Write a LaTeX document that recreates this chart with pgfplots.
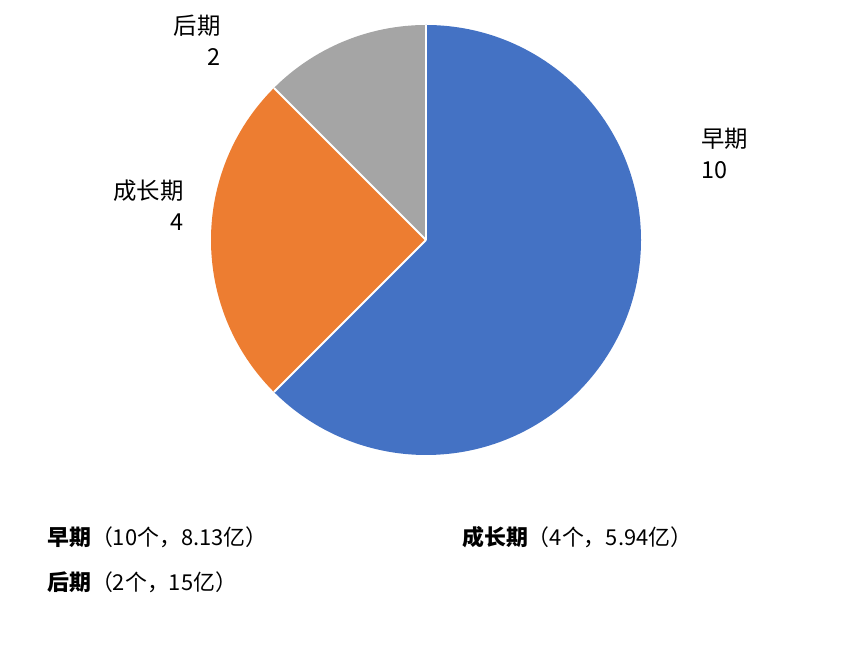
\documentclass[border=0pt]{standalone}
\usepackage{fontspec}
\setmainfont{Noto Sans CJK SC}
\usepackage{pgfplots}
\usepackage{pgfplotstable}
\pgfplotsset{compat=1.18}

\definecolor{pieblue}{HTML}{4472C4}
\definecolor{pieorange}{HTML}{ED7D31}
\definecolor{piegray}{HTML}{A5A5A5}

% stage, count
\pgfplotstableread{
stage count
早期 10
成长期 4
后期 2
}\piedata

\pgfplotstablegetelem{0}{count}\of\piedata \let\cA\pgfplotsretval
\pgfplotstablegetelem{1}{count}\of\piedata \let\cB\pgfplotsretval
\pgfplotstablegetelem{2}{count}\of\piedata \let\cC\pgfplotsretval
\pgfmathsetmacro\total{\cA+\cB+\cC}
% clockwise from 12 o'clock
\pgfmathsetmacro\aA{90}
\pgfmathsetmacro\aB{\aA-360*\cA/\total}
\pgfmathsetmacro\aC{\aB-360*\cB/\total}
\pgfmathsetmacro\aD{\aC-360*\cC/\total}

\begin{document}
\begin{tikzpicture}
\begin{axis}[
    scale only axis,
    width=853bp, height=664bp,
    xmin=0, xmax=853, ymin=0, ymax=664,
    axis lines=none,
    clip=false,
]
% keep the whole canvas in the bounding box
\path (rel axis cs:0,0) rectangle (rel axis cs:1,1);
\def\R{215bp}
\fill[pieblue] (axis cs:426,424) -- ++(\aA:\R) arc[start angle=\aA, end angle=\aB, radius=\R] -- cycle;
\fill[pieorange] (axis cs:426,424) -- ++(\aB:\R) arc[start angle=\aB, end angle=\aC, radius=\R] -- cycle;
\fill[piegray] (axis cs:426,424) -- ++(\aC:\R) arc[start angle=\aC, end angle=\aD, radius=\R] -- cycle;
\draw[white, line width=2bp] (axis cs:426,424) -- ++(\aA:\R);
\draw[white, line width=2bp] (axis cs:426,424) -- ++(\aB:\R);
\draw[white, line width=2bp] (axis cs:426,424) -- ++(\aC:\R);

\tikzset{pielabel/.style={inner sep=0pt, font=\fontsize{23.5}{31}\selectfont}}
\node[pielabel, anchor=north west, align=left] at (axis cs:701,536) {早期\\\cA};
\node[pielabel, anchor=north east, align=right] at (axis cs:184,484) {成长期\\\cB};
\node[pielabel, anchor=north east, align=right] at (axis cs:221,649) {后期\\\cC};

\tikzset{legendtext/.style={anchor=west, inner sep=0pt, font=\fontsize{22}{26}\selectfont}}
\node[legendtext] at (axis cs:47,127) {\textbf{早期}（10个，8.13亿）};
\node[legendtext] at (axis cs:462,127) {\textbf{成长期}（4个，5.94亿）};
\node[legendtext] at (axis cs:47,82) {\textbf{后期}（2个，15亿）};
\end{axis}
\end{tikzpicture}
\end{document}
